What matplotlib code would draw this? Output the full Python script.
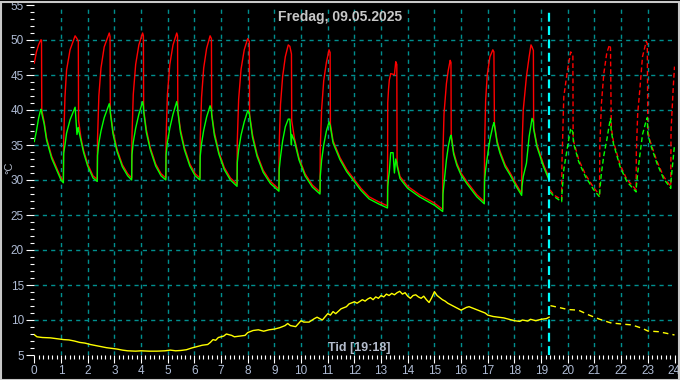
import numpy as np
import matplotlib.pyplot as plt
from matplotlib.patches import Rectangle
from matplotlib.ticker import MultipleLocator

# --- data (hours of the day, degC) ---
hours = [0.00, 0.08, 0.16, 0.24, 0.27, 0.28, 0.37, 0.46, 0.65, 0.84, 1.00, 1.09,
         1.10, 1.15, 1.21, 1.34, 1.53, 1.60, 1.65, 1.66, 1.75, 1.85, 2.00, 2.20, 2.36,
         2.37, 2.42, 2.50, 2.62, 2.81, 2.84, 2.85, 2.95, 3.10, 3.30, 3.50, 3.65,
         3.66, 3.71, 3.80, 3.92, 4.06, 4.09, 4.10, 4.20, 4.35, 4.55, 4.75, 4.93,
         4.94, 4.99, 5.08, 5.20, 5.34, 5.37, 5.38, 5.48, 5.63, 5.83, 6.03, 6.21,
         6.22, 6.27, 6.35, 6.46, 6.59, 6.64, 6.65, 6.75, 6.92, 7.12, 7.35, 7.60,
         7.61, 7.66, 7.75, 7.87, 8.00, 8.06, 8.07, 8.18, 8.35, 8.58, 8.85, 9.17,
         9.18, 9.23, 9.31, 9.41, 9.52, 9.58, 9.64, 9.65, 9.75, 9.92, 10.15, 10.42, 10.71,
         10.72, 10.77, 10.85, 10.95, 11.05, 11.09, 11.10, 11.20, 11.46, 11.71, 11.95,
         12.25, 12.55, 12.90, 13.24,
         13.25, 13.28, 13.31, 13.36, 13.45, 13.50, 13.55, 13.59, 13.60, 13.71, 14.00,
         14.44, 15.00, 15.31,
         15.32, 15.36, 15.45, 15.52, 15.59, 15.62, 15.63, 15.72, 15.84, 16.00, 16.21,
         16.59, 16.87,
         16.88, 16.92, 16.98, 17.08, 17.19, 17.23, 17.25, 17.35, 17.46, 17.65, 17.84,
         18.05, 18.27,
         18.28, 18.33, 18.45, 18.55, 18.62, 18.66, 18.71, 18.72, 18.84, 19.09, 19.30]
red = [46.7, 48.3, 49.3, 50.0, 50.0, 40.0, 38.3, 36.0, 33.4, 31.7, 30.3, 29.9,
       35.5, 41.9, 45.7, 48.6, 50.6, 50.2, 49.8, 38.5, 36.0, 34.2, 32.3, 30.6, 30.1,
       35.8, 42.0, 46.0, 49.0, 51.0, 50.5, 39.8, 37.0, 34.4, 32.2, 30.9, 30.3,
       36.0, 42.2, 46.5, 49.3, 51.0, 50.6, 40.0, 37.2, 34.6, 32.3, 30.9, 30.3,
       36.0, 42.2, 46.5, 49.3, 51.0, 50.6, 40.0, 37.2, 34.6, 32.3, 30.9, 30.3,
       35.8, 41.8, 46.0, 48.8, 50.6, 50.2, 39.5, 36.8, 34.0, 31.8, 30.3, 29.4,
       35.5, 41.5, 45.8, 48.6, 50.2, 49.8, 39.4, 36.5, 33.7, 31.4, 29.8, 28.7,
       35.0, 40.8, 44.8, 47.6, 49.3, 49.1, 48.0, 38.5, 36.0, 33.2, 30.9, 29.3, 28.3,
       34.5, 40.0, 44.2, 46.8, 48.6, 48.2, 38.0, 35.6, 33.2, 31.5, 30.3,
       28.8, 27.6, 26.9, 26.3,
       41.0, 43.0, 44.3, 45.2, 45.1, 45.0, 46.9, 46.5, 32.3, 30.5, 29.1,
       27.9, 26.7, 25.8,
       34.0, 39.5, 43.8, 45.7, 47.1, 46.8, 36.5, 34.0, 32.4, 31.0, 29.8,
       27.9, 26.9,
       34.8, 41.4, 45.0, 47.6, 48.6, 48.3, 38.0, 35.6, 34.1, 32.2, 31.0,
       29.5, 28.1,
       34.3, 40.0, 44.8, 47.6, 49.3, 49.0, 48.5, 37.5, 35.1, 32.2, 30.3]
green = [35.5, 37.0, 38.8, 40.1, 40.0, 39.5, 38.0, 35.7, 33.1, 31.4, 30.0, 29.6,
         33.8, 35.0, 36.7, 38.6, 40.4, 36.5, 37.5, 37.2, 35.6, 33.9, 32.0, 30.3, 29.8,
         33.5, 35.3, 37.0, 38.9, 40.9, 40.3, 39.6, 36.6, 34.1, 31.9, 30.6, 30.0,
         33.6, 35.4, 37.4, 39.4, 41.2, 40.5, 39.8, 36.8, 34.3, 32.0, 30.6, 30.0,
         33.6, 35.4, 37.4, 39.4, 41.2, 40.5, 39.8, 36.8, 34.3, 32.0, 30.6, 30.0,
         33.4, 35.2, 37.1, 39.0, 40.6, 40.0, 39.3, 36.4, 33.7, 31.5, 30.0, 29.1,
         32.5, 34.3, 36.4, 38.3, 39.9, 39.6, 39.2, 36.1, 33.4, 31.1, 29.5, 28.4,
         31.5, 33.3, 35.6, 37.6, 38.7, 38.7, 35.0, 36.5, 35.6, 32.9, 30.6, 29.0, 28.0,
         30.5, 32.8, 35.0, 37.0, 38.3, 37.8, 37.6, 35.3, 32.9, 31.2, 30.0,
         28.5, 27.3, 26.6, 26.0,
         29.0, 30.3, 31.2, 33.9, 33.9, 31.0, 33.0, 32.5, 32.0, 30.2, 28.8,
         27.6, 26.4, 25.5,
         28.0, 29.5, 32.9, 34.8, 36.1, 36.4, 36.2, 33.7, 32.1, 30.7, 29.5,
         27.6, 26.6,
         30.0, 31.5, 33.2, 35.8, 37.7, 38.2, 37.8, 35.3, 33.8, 31.9, 30.7,
         29.2, 27.8,
         29.0, 30.5, 32.4, 36.2, 37.8, 38.8, 38.3, 37.3, 34.8, 31.9, 30.0]

# rest of the day (after the cursor), drawn dashed
hours_rest = [19.33, 19.50, 19.77,
              19.78, 19.85, 20.00, 20.11, 20.19, 20.20, 20.22, 20.41, 20.66, 20.97, 21.19,
              21.20, 21.26, 21.35, 21.46, 21.56, 21.60, 21.63, 21.71, 21.96, 22.21, 22.56,
              22.57, 22.62, 22.70, 22.80, 22.94, 22.98, 23.00, 23.09, 23.34, 23.59, 23.86,
              23.87, 23.95, 24.00]
red_rest = [28.6, 27.8, 27.2,
            32.4, 41.9, 46.0, 48.3, 47.8, 36.5, 35.5, 32.9, 30.8, 28.9, 27.9,
            34.8, 40.9, 45.2, 48.1, 49.3, 48.9, 37.5, 35.5, 32.2, 30.1, 28.6,
            34.0, 39.5, 42.9, 47.6, 49.8, 49.5, 37.0, 35.5, 32.7, 30.5, 29.1,
            37.0, 43.0, 46.2]
green_rest = [28.3, 27.6, 26.9,
              28.0, 31.5, 35.0, 37.4, 36.8, 36.0, 35.2, 32.6, 30.5, 28.6, 27.6,
              28.5, 31.0, 33.5, 35.7, 38.0, 38.8, 37.0, 35.2, 31.9, 29.8, 28.3,
              29.0, 31.0, 33.5, 36.5, 38.5, 38.9, 36.6, 35.2, 32.4, 30.2, 28.8,
              30.0, 33.0, 35.0]

out_hours = [0.0, 0.1, 0.3, 0.6, 0.9, 1.1, 1.3, 1.5, 1.7, 1.9, 2.1, 2.3, 2.5, 2.7, 2.9,
             3.1, 3.3, 3.5, 3.8, 4.0, 4.3, 4.6, 4.9, 5.1, 5.3, 5.5, 5.7, 5.9, 6.1, 6.3,
             6.5, 6.6, 6.7, 6.8, 6.9, 7.0, 7.1, 7.2, 7.3, 7.4, 7.5, 7.7, 7.9, 8.0, 8.2,
             8.4, 8.6, 8.8, 9.0, 9.2, 9.4, 9.5, 9.6, 9.8, 10.0, 10.1, 10.3, 10.5, 10.6,
             10.8, 11.0, 11.1, 11.2, 11.3, 11.5, 11.7, 11.8, 12.0, 12.1, 12.3, 12.4,
             12.5, 12.6, 12.7, 12.8, 12.9, 13.0, 13.1, 13.2, 13.3, 13.4, 13.5, 13.6,
             13.7, 13.8, 13.9, 14.0, 14.1, 14.2, 14.3, 14.4, 14.5, 14.6, 14.7, 14.8,
             14.9, 15.0, 15.1, 15.2, 15.3, 15.4, 15.5, 15.6, 15.7, 15.8, 15.9, 16.0,
             16.2, 16.3, 16.5, 16.7, 16.9, 17.0, 17.2, 17.4, 17.6, 17.8, 18.0, 18.2,
             18.3, 18.5, 18.6, 18.8, 19.0, 19.2, 19.3]
out_temp = [7.9, 7.6, 7.5, 7.45, 7.3, 7.2, 7.15, 7.0, 6.8, 6.7, 6.5, 6.35, 6.2, 6.05, 5.95,
            5.85, 5.7, 5.6, 5.55, 5.6, 5.55, 5.55, 5.6, 5.7, 5.6, 5.65, 5.75, 6.0, 6.2, 6.4,
            6.5, 6.8, 7.2, 7.1, 7.5, 7.6, 7.7, 8.0, 7.9, 7.8, 7.6, 7.7, 7.8, 8.2, 8.5,
            8.6, 8.4, 8.6, 8.7, 8.9, 9.2, 9.5, 9.2, 9.05, 9.9, 9.7, 9.7, 10.2, 10.4,
            10.0, 10.9, 10.7, 11.2, 10.9, 11.6, 11.9, 12.3, 12.6, 12.4, 12.9, 12.7,
            13.0, 13.2, 12.9, 13.3, 13.1, 13.5, 13.3, 13.7, 13.5, 13.8, 13.6, 13.9,
            14.1, 13.7, 13.9, 13.4, 13.1, 13.5, 13.6, 13.3, 13.1, 13.4, 12.9, 12.5,
            13.2, 14.05, 13.5, 13.2, 12.9, 12.7, 12.4, 12.2, 12.0, 11.8, 11.6, 11.4,
            11.8, 11.9, 11.6, 11.3, 11.0, 10.7, 10.5, 10.4, 10.3, 10.1, 9.9, 9.8,
            10.0, 9.85, 10.1, 9.9, 10.1, 10.2, 10.4]
out_hours_rest = [19.35, 19.7, 20.0, 20.4, 20.8, 21.2, 21.6, 22.0, 22.4, 22.8, 23.0,
                  23.4, 23.7, 24.0]
out_temp_rest = [12.05, 11.76, 11.5, 11.4, 10.7, 10.1, 9.6, 9.43, 9.3, 8.8, 8.43,
                 8.33, 8.1, 7.86]

now = 19.3
title = "Fredag, 09.05.2025"
xlabel = "Tid [19:18]"

plt.rcParams['font.family'] = ['Liberation Sans', 'DejaVu Sans']

fig = plt.figure(figsize=(6.8, 3.8), dpi=100, facecolor='black')
ax = fig.add_axes([34.3 / 680, 25 / 380, 640.2 / 680, 350 / 380])
ax.set_facecolor('black')
ax.set_xlim(0, 24)
ax.set_ylim(5, 55)

# grid
grid_col = '#008f8f'
for h in range(1, 24):
    ax.axvline(h, color=grid_col, lw=1.0, dashes=(3, 3), zorder=1)
for t in range(10, 55, 5):
    ax.axhline(t, color=grid_col, lw=1.0, dashes=(3, 3), zorder=1)

ax.plot(hours, red, color='#ff0000', lw=1.0, zorder=3)
ax.plot(hours, green, color='#00ff00', lw=1.0, zorder=4)
ax.plot(hours_rest, red_rest, color='#ff0000', lw=1.0, dashes=(3.5, 2), zorder=3)
ax.plot(hours_rest, green_rest, color='#00ff00', lw=1.0, dashes=(3.5, 2), zorder=4)
ax.plot(out_hours, out_temp, color='#ffff00', lw=1.0, zorder=3)
ax.plot(out_hours_rest, out_temp_rest, color='#ffff00', lw=1.0, dashes=(4, 3), zorder=3)

ax.vlines(now, 5, 54.1, color='#00ffff', lw=1.6, linestyles=(0, (4, 2)), zorder=5)

for s in ax.spines.values():
    s.set_visible(False)
ax.xaxis.set_major_locator(MultipleLocator(1))
ax.xaxis.set_minor_locator(MultipleLocator(1 / 6))
ax.yaxis.set_major_locator(MultipleLocator(5))
ax.yaxis.set_minor_locator(MultipleLocator(1))
ax.tick_params(which='major', colors='white', length=6, width=0.8,
               labelcolor='#aebbd4', labelsize=8.5)
ax.tick_params(which='minor', colors='white', length=3.2, width=0.8)
ax.tick_params(axis='y', pad=1.5)
ax.tick_params(axis='x', pad=1.5)

fig.text(340 / 680, 1 - 17 / 380, title, ha='center', va='center',
         color='#c8c8c8', fontsize=10, fontweight='bold')
fig.text(359 / 680, 1 - 348 / 380, xlabel, ha='center', va='center',
         color='#b4bccc', fontsize=9, fontweight='bold')
fig.text(9 / 680, 1 - 168 / 380, '°C', ha='center', va='center',
         color='#b4bccc', fontsize=8, rotation=90)

fig.patches.append(Rectangle((0.5 / 680, 0.5 / 380), 678 / 680, 378 / 380,
                             transform=fig.transFigure, fill=False,
                             edgecolor='#c8c8c8', lw=1.5))

fig.savefig('out.png', dpi=100, facecolor='black')
